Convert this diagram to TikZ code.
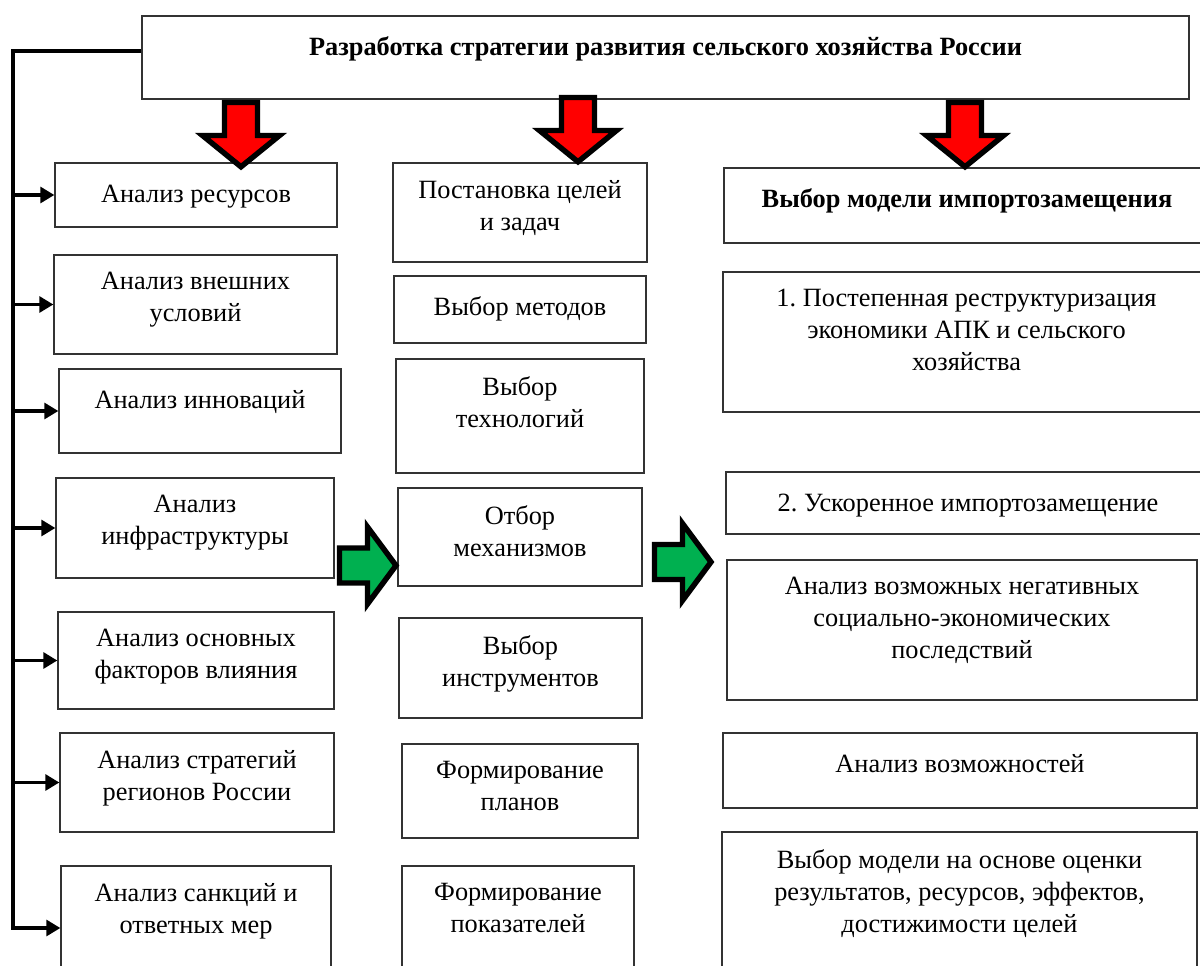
\documentclass[tikz,border=0pt]{standalone}
\usepackage{fontspec}
\setmainfont{Liberation Serif}
\usetikzlibrary{arrows.meta,positioning,fit}

\definecolor{arrred}{RGB}{255,0,0}
\definecolor{arrgreen}{RGB}{0,176,80}

\tikzset{
  box/.style={draw=black!80, line width=0.7pt, inner sep=0pt},
  txt/.style={align=center, inner sep=0pt,
    font=\fontsize{15}{18.2}\selectfont\frenchspacing,
    execute at begin node=\strut},
  rail/.style={line width=2.2pt, line join=miter},
  feed/.style={rail, -{Triangle[length=8pt,width=9pt]}},
  pics/downarr/.style={code={
    \draw[fill=arrred, line width=3.1pt, line join=miter]
      (-16.5,2.5) -- (16.5,2.5) -- (16.5,35.5) -- (38.5,35.5) -- (0,66.8)
      -- (-38.5,35.5) -- (-16.5,35.5) -- cycle;
  }},
  pics/rightarr/.style={code={
    \draw[fill=arrgreen, line width=3.1pt, line join=miter]
      (2.5,-17.5) -- (30.5,-17.5) -- (30.5,-38.5) -- (59,0)
      -- (30.5,38.5) -- (30.5,17.5) -- (2.5,17.5) -- cycle;
  }},
}

\begin{document}
\begin{tikzpicture}[x=0.02cm, y=-0.02cm]
\useasboundingbox (0,0) rectangle (1200,966);
\clip (0,0) rectangle (1200,966);
\fill[white] (0,0) rectangle (1200,966);

\node[box, fit={(142,16) (1189,99)}] (title) {};
\node[txt, below=10pt of title.north] (title-t)
  {\textbf{Разработка стратегии развития сельского хозяйства России}};

% left column
\node[box, fit={(55,163) (337,227)}] (b1) {};
\node[box, fit={(54,255) (337,354)}] (b2) {};
\node[box, fit={(59,369) (341,453)}] (b3) {};
\node[box, fit={(56,478) (334,578)}] (b4) {};
\node[box, fit={(58,612) (334,709)}] (b5) {};
\node[box, fit={(60,733) (334,832)}] (b6) {};
\node[box, fit={(61,866) (331,990)}] (b7) {};

\node[txt, below=10pt of b1.north] (b1-t) {Анализ ресурсов};
\node[txt, below=10pt of b2.north] (b2-t) {Анализ внешних\\условий};
\node[txt, below=10pt of b3.north] (b3-t) {Анализ инноваций};
\node[txt, below=10pt of b4.north] (b4-t) {Анализ\\инфраструктуры};
\node[txt, below=10pt of b5.north] (b5-t) {Анализ основных\\факторов влияния};
\node[txt, below=10pt of b6.north] (b6-t) {Анализ стратегий\\регионов России};
\node[txt, below=10pt of b7.north] (b7-t) {Анализ санкций и\\ответных мер};

% middle column
\node[box, fit={(393,163) (647,262)}] (m1) {};
\node[box, fit={(394,276) (646,343)}] (m2) {};
\node[box, fit={(396,359) (644,473)}] (m3) {};
\node[box, fit={(398,488) (642,586)}] (m4) {};
\node[box, fit={(399,618) (642,718)}] (m5) {};
\node[box, fit={(402,744) (638,838)}] (m6) {};
\node[box, fit={(402,866) (634,1000)}] (m7) {};

\node[txt, below=10pt of m1.north] (m1-t) {Постановка целей\\и задач};
\node[txt, below=10pt of m2.north] (m2-t) {Выбор методов};
\node[txt, below=10pt of m3.north] (m3-t) {Выбор\\технологий};
\node[txt, below=10pt of m4.north] (m4-t) {Отбор\\механизмов};
\node[txt, below=10pt of m5.north] (m5-t) {Выбор\\инструментов};
\node[txt, below=10pt of m6.north] (m6-t) {Формирование\\планов};
\node[txt, below=10pt of m7.north] (m7-t) {Формирование\\показателей};

% right column
\node[box, fit={(724,168) (1210,243)}] (r1) {};
\node[box, fit={(723,272) (1210,412)}] (r2) {};
\node[box, fit={(726,472) (1210,534)}] (r3) {};
\node[box, fit={(727,560) (1197,700)}] (r4) {};
\node[box, fit={(723,733) (1197,808)}] (r5) {};
\node[box, fit={(722,832) (1197,1000)}] (r6) {};

\node[txt, below=10pt of r1.north] (r1-t) {\textbf{Выбор модели импортозамещения}};
\node[txt, below=10pt of r2.north] (r2-t)
  {1. Постепенная реструктуризация\\экономики АПК и сельского\\хозяйства};
\node[txt, below=10pt of r3.north] (r3-t) {2. Ускоренное импортозамещение};
\node[txt, below=10pt of r4.north] (r4-t)
  {Анализ возможных негативных\\социально-экономических\\последствий};
\node[txt, below=10pt of r5.north] (r5-t) {Анализ возможностей};
\node[txt, below=10pt of r6.north] (r6-t)
  {Выбор модели на основе оценки\\результатов, ресурсов, эффектов,\\достижимости целей};

% rail on the left
\coordinate (railtop) at (13,51);
\draw[feed] (title.west |- railtop) -- (railtop) |- (b7.west);
\foreach \b in {b1,b2,b3,b4,b5,b6}
  \draw[feed] (railtop |- \b.west) -- (\b.west);

% block arrows
\pic at (241,100) {downarr};
\pic at (578,95) {downarr};
\pic at (965,100) {downarr};
\pic at (337,565.5) {rightarr};
\pic at (652,562) {rightarr};
\end{tikzpicture}
\end{document}
